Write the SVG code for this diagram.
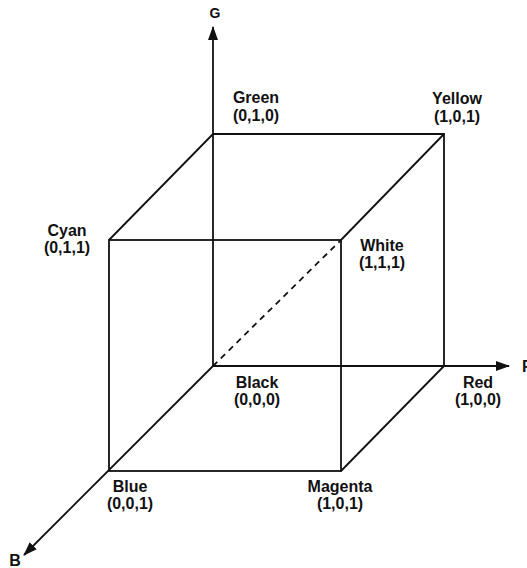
<svg xmlns="http://www.w3.org/2000/svg" width="527" height="568" viewBox="0 0 527 568">
<style>
.e{stroke:#111;stroke-width:1.8;fill:none}
.d{stroke:#111;stroke-width:1.8;fill:none;stroke-dasharray:6,5}
text{font-family:"Liberation Sans",Arial,sans-serif;font-weight:bold;font-size:16px;fill:#111;text-anchor:middle}
</style>
<defs>
<marker id="ar" viewBox="0 0 14 10" refX="13" refY="5" markerWidth="14" markerHeight="10" markerUnits="userSpaceOnUse" orient="auto">
<path d="M0,0 L14,5 L0,10 Z" fill="#111"/>
</marker>
</defs>
<rect width="527" height="568" fill="#fff"/>
<g id="connectors">
<line class="e" x1="213" y1="366" x2="213" y2="27" marker-end="url(#ar)"/>
<line class="e" x1="213" y1="366" x2="509" y2="366" marker-end="url(#ar)"/>
<line class="e" x1="213" y1="366" x2="24" y2="555" marker-end="url(#ar)"/>
<polyline class="e" points="213,134 444,134 444,366"/>
<line class="e" x1="213" y1="134" x2="109" y2="240"/>
<line class="e" x1="444" y1="134" x2="341" y2="240"/>
<line class="e" x1="444" y1="366" x2="341" y2="471"/>
<rect class="e" x="109" y="240" width="232" height="231"/>
<line class="d" x1="213" y1="366" x2="341" y2="240"/>
</g>
<g id="axisG"><text x="215" y="18" style="font-size:14px">G</text></g>
<g id="axisR"><text x="522" y="372" style="text-anchor:start">R</text></g>
<g id="axisB"><text x="15" y="566">B</text></g>
<g id="green"><text x="256" y="103">Green</text><text x="256" y="121">(0,1,0)</text></g>
<g id="yellow"><text x="457" y="104">Yellow</text><text x="457" y="122">(1,0,1)</text></g>
<g id="cyan"><text x="67" y="236">Cyan</text><text x="67" y="253">(0,1,1)</text></g>
<g id="white"><text x="382" y="251">White</text><text x="382" y="268">(1,1,1)</text></g>
<g id="black"><text x="257" y="388">Black</text><text x="257" y="405">(0,0,0)</text></g>
<g id="red"><text x="478" y="388">Red</text><text x="478" y="405">(1,0,0)</text></g>
<g id="blue"><text x="130" y="492">Blue</text><text x="130" y="509">(0,0,1)</text></g>
<g id="magenta"><text x="340" y="492">Magenta</text><text x="340" y="509">(1,0,1)</text></g>
</svg>
